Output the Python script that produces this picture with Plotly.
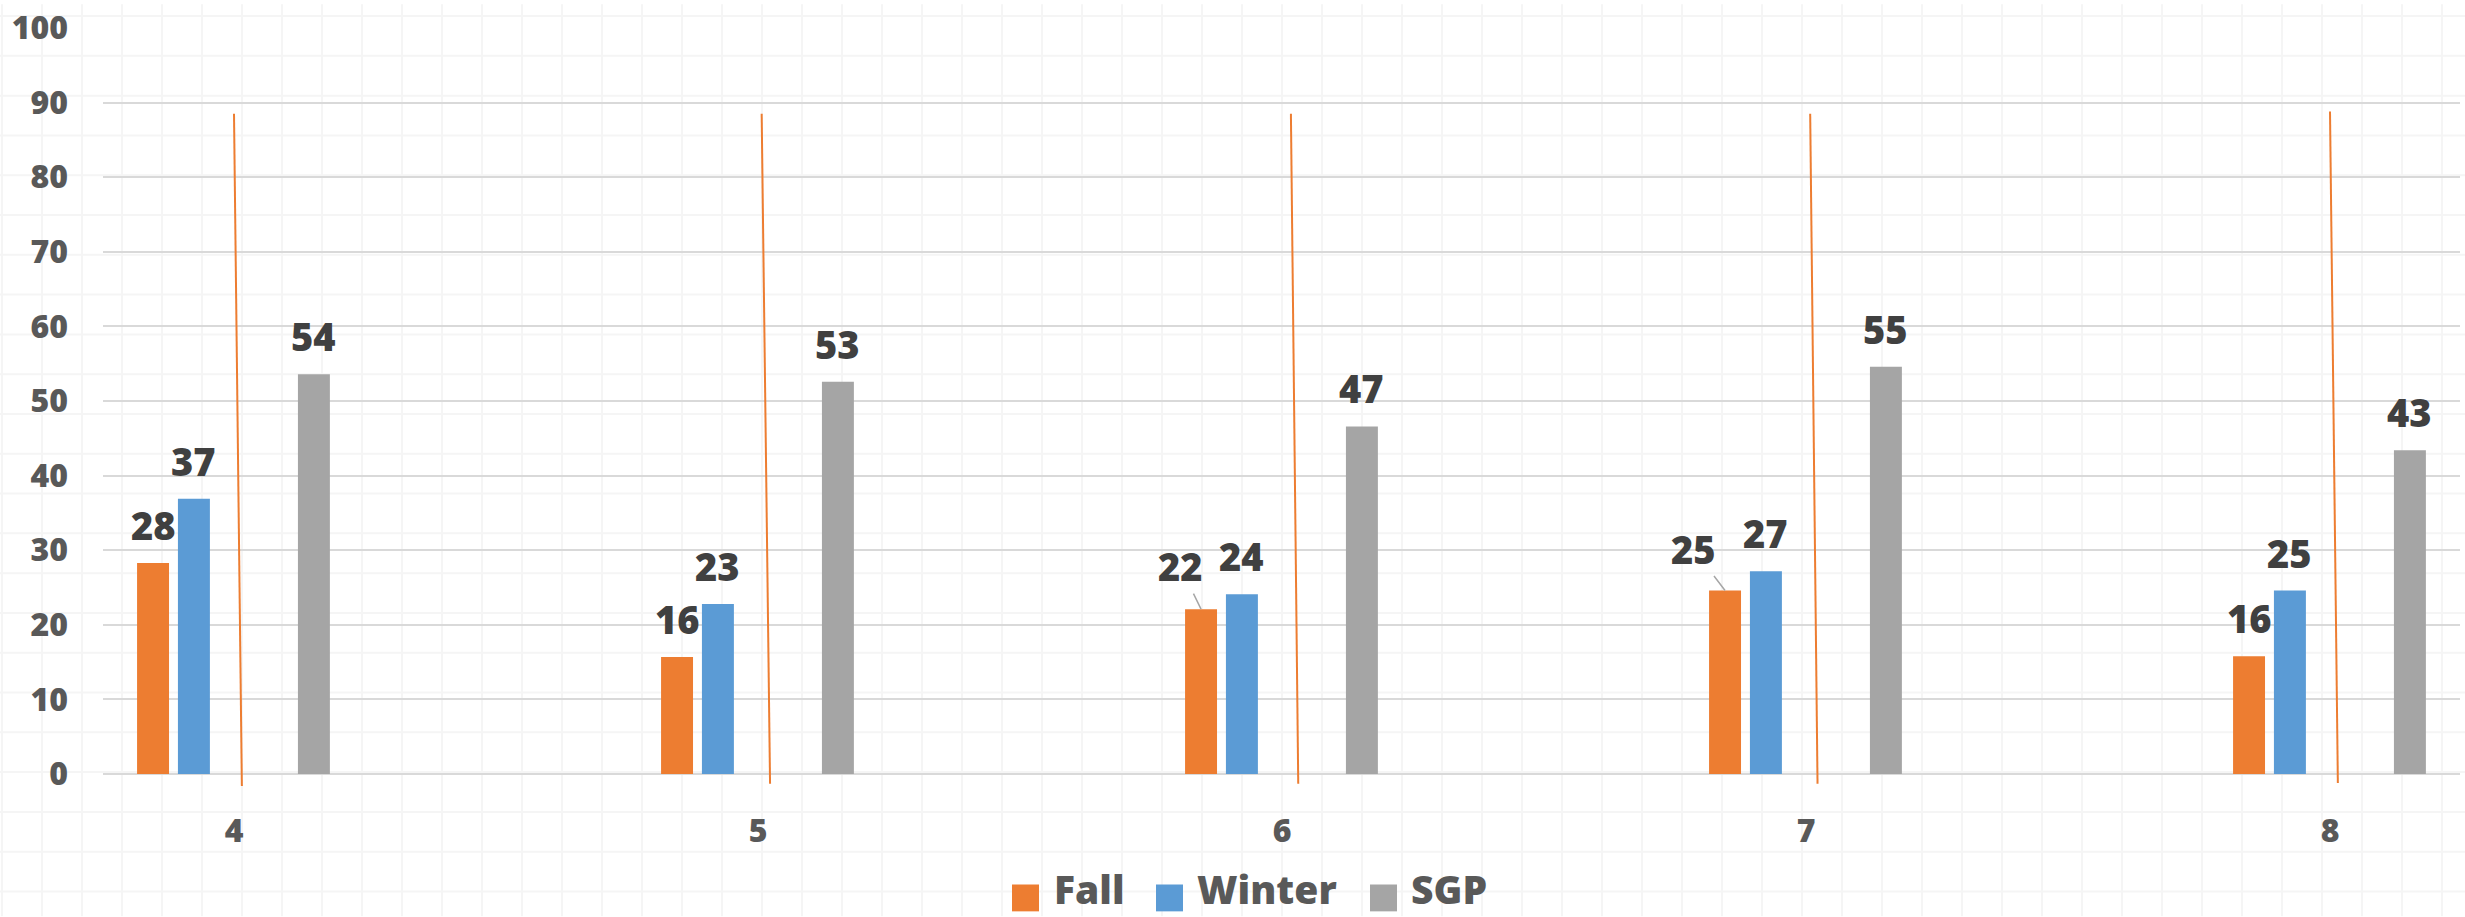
import plotly.graph_objects as go

# ---- data ----
categories = ["4", "5", "6", "7", "8"]
series_names = ["Fall", "Winter", "SGP"]
fall = [28.3, 15.7, 22.1, 24.6, 15.8]
winter = [36.9, 22.8, 24.1, 27.2, 24.6]
sgp = [53.6, 52.6, 46.6, 54.6, 43.4]

# thin orange reference strokes per grade (value at top / bottom)
stroke_top = [88.5, 88.5, 88.5, 88.5, 88.8]
stroke_bottom = [-1.6, -1.3, -1.3, -1.3, -1.2]

# ---- styling ----
W, H = 2465, 917
ML, MR, MT, MB = 103, 5, 24, 128
PW, PH = W - ML - MR, H - MT - MB
colors = {"Fall": "#ED7D31", "Winter": "#5B9BD5", "SGP": "#A5A5A5"}
FONT = "Open Sans"
WEIGHT = 800
bar_w = 0.061
bar_left = {"Fall": -0.185, "Winter": -0.107, "SGP": 0.122}
stroke_dx_top = [0.0, 0.007, 0.017, 0.008, 0.0]
stroke_dx_bot = [0.015, 0.023, 0.031, 0.022, 0.015]

xpos = [int(c) for c in categories]
values = {"Fall": fall, "Winter": winter, "SGP": sgp}


def px_x(p):
    return (p - ML) / PW


def px_y(p):
    return (H - MB - p) / PH


fig = go.Figure()

for name in series_names:
    fig.add_trace(go.Bar(
        x=xpos, y=values[name], name=name,
        width=bar_w, offset=bar_left[name],
        marker=dict(color=colors[name], line=dict(width=0)),
        showlegend=False,
    ))

sx, sy = [], []
for c, t, b, dt, db in zip(xpos, stroke_top, stroke_bottom, stroke_dx_top, stroke_dx_bot):
    sx += [c + dt, c + db, None]
    sy += [t, b, None]
fig.add_trace(go.Scatter(
    x=sx, y=sy, mode="lines", line=dict(color="#ED7D31", width=2),
    showlegend=False, hoverinfo="skip",
))

# ---- data labels ----
label_font = dict(family=FONT, size=38, color="#404040", weight=WEIGHT)
# label offsets in pixels (dx, dy) and whether a leader line is drawn
label_offsets = {
    ("Fall", 2): (-21, -43, True),
    ("Fall", 3): (-32, -42, True),
}
for name in series_names:
    centre = bar_left[name] + bar_w / 2
    for i, (c, v) in enumerate(zip(xpos, values[name])):
        dx, dy, leader = label_offsets.get((name, i), (0, -38, False))
        fig.add_annotation(
            x=c + centre, y=v, text=f"{v:.0f}", font=label_font,
            showarrow=True, ax=dx, ay=dy,
            arrowhead=0, arrowwidth=1.5, standoff=0,
            arrowcolor="#A6A6A6" if leader else "rgba(0,0,0,0)",
        )

# ---- legend ----
legend_items = [("Fall", 1012, 1053), ("Winter", 1156, 1196), ("SGP", 1370, 1410)]
for name, sw_x, tx in legend_items:
    fig.add_shape(type="rect", xref="paper", yref="paper",
                  x0=px_x(sw_x), x1=px_x(sw_x + 27), y0=px_y(912), y1=px_y(885),
                  fillcolor=colors[name], line=dict(width=0))
    fig.add_annotation(xref="paper", yref="paper", x=px_x(tx), y=px_y(917),
                       xanchor="left", yanchor="bottom", showarrow=False,
                       text=name, borderpad=0,
                       font=dict(family=FONT, size=39, color="#595959", weight=WEIGHT))

# ---- faint sheet grid in the background ----
for p in range(2, W, 40):
    fig.add_shape(type="line", xref="paper", yref="paper", layer="below",
                  x0=px_x(p), x1=px_x(p), y0=px_y(H), y1=px_y(0),
                  line=dict(color="#F5F5F5", width=2))
for p in range(12, H, 40):
    fig.add_shape(type="line", xref="paper", yref="paper", layer="below",
                  x0=px_x(0), x1=px_x(W), y0=px_y(p), y1=px_y(p),
                  line=dict(color="#F5F5F5", width=2))

fig.update_layout(
    width=W, height=H,
    margin=dict(l=ML, r=MR, t=MT, b=MB, pad=0),
    paper_bgcolor="white", plot_bgcolor="rgba(0,0,0,0)",
    barmode="overlay",
    xaxis=dict(
        range=[3.75, 3.75 + PW / 524], tickvals=xpos, ticktext=categories,
        showgrid=False, zeroline=False, showline=False, ticks="",
        tickfont=dict(family=FONT, size=32, color="#595959", weight=WEIGHT),
        ticklabelstandoff=20,
    ),
    yaxis=dict(
        range=[-2, 100], tick0=0, dtick=10,
        showgrid=True, gridcolor="#D9D9D9", gridwidth=2,
        zeroline=False, showline=False, ticks="",
        tickfont=dict(family=FONT, size=32, color="#595959", weight=WEIGHT),
        ticklabelstandoff=34,
    ),
)

fig.write_html("out.html")
